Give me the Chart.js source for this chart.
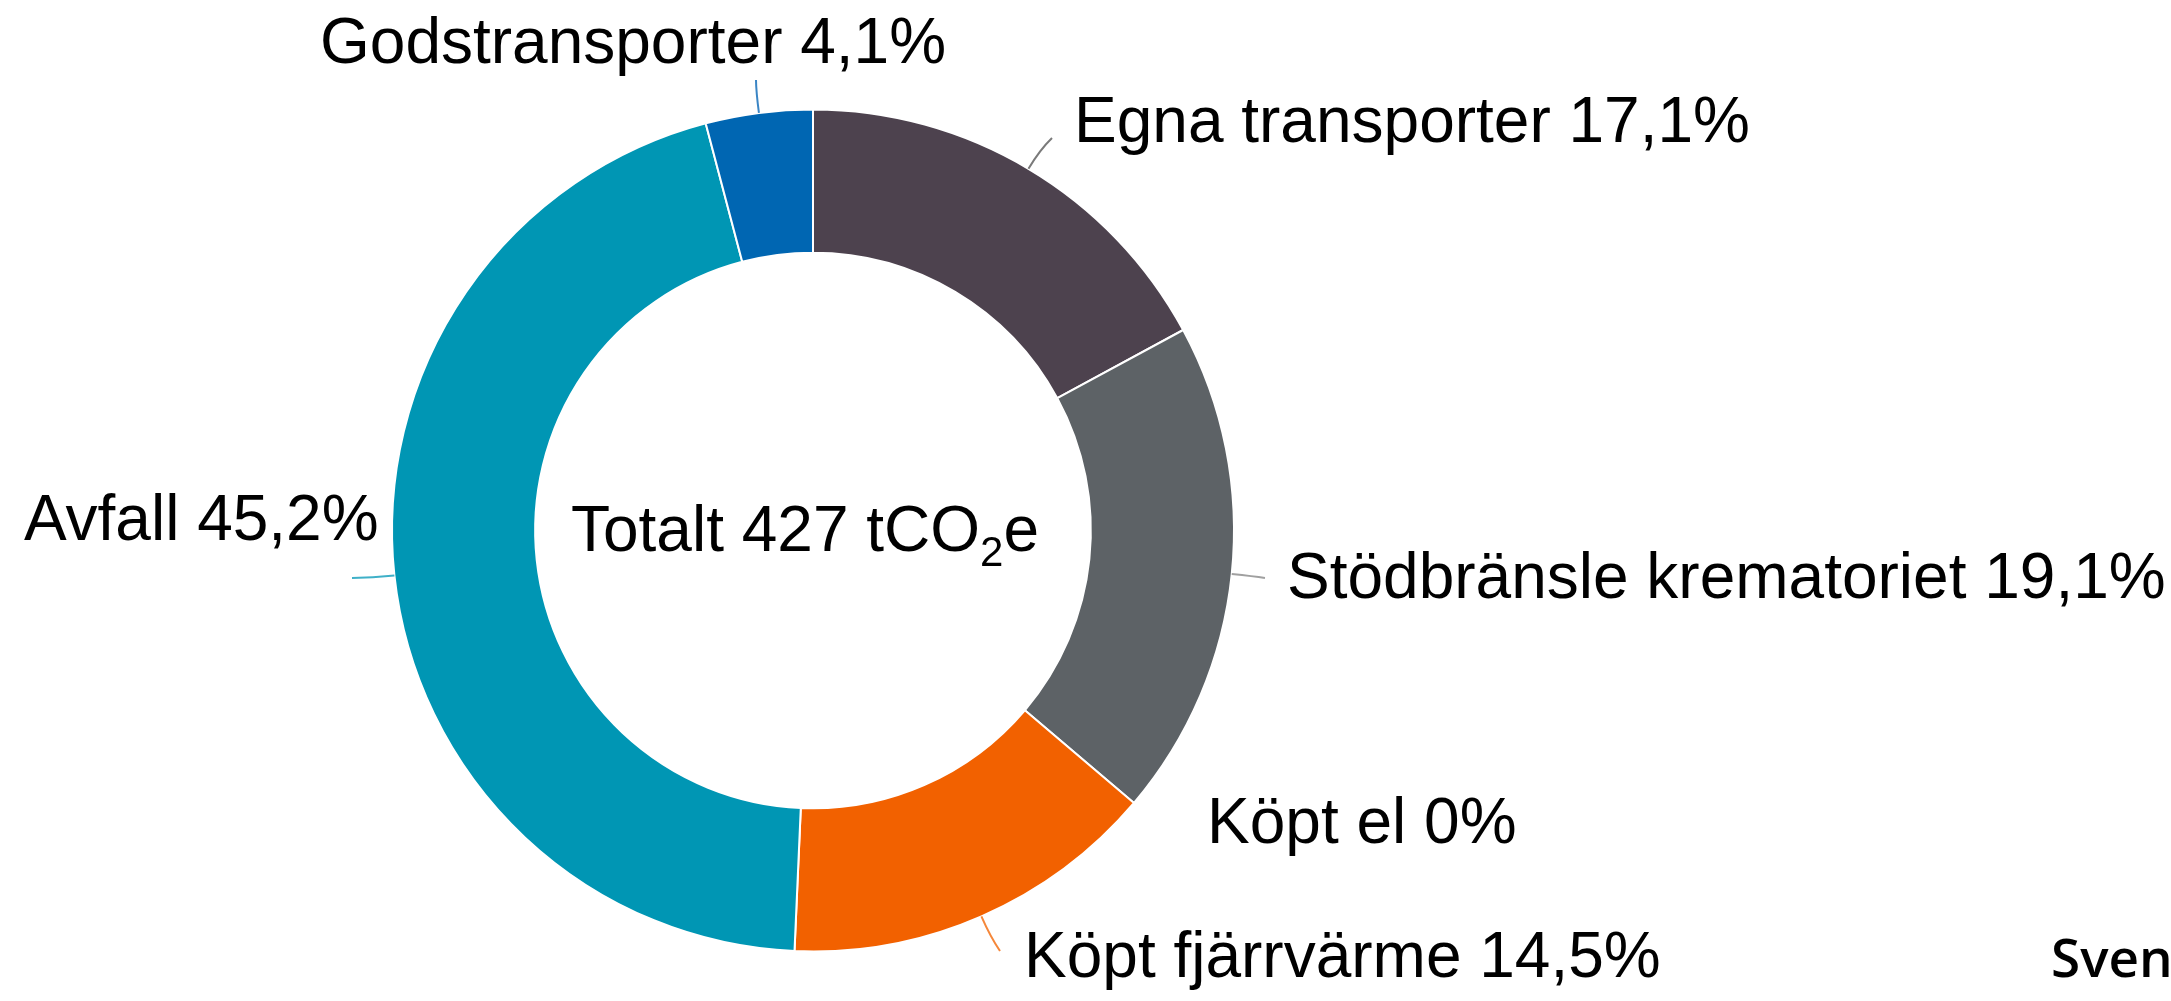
<!DOCTYPE html>
<html>
<head>
<meta charset="utf-8">
<script src="https://cdn.jsdelivr.net/npm/chart.js@4.4.1/dist/chart.umd.min.js"></script>
<style>
  html, body { margin: 0; padding: 0; background: #fff; overflow: hidden; }
  #wrap { width: 2171px; height: 1001px; position: relative; }
</style>
</head>
<body>
<div id="wrap"><canvas id="chart"></canvas></div>
<script>
// Data (share of total emissions, %)
const categories = ['Egna transporter', 'Stödbränsle krematoriet', 'Köpt el', 'Köpt fjärrvärme', 'Avfall', 'Godstransporter'];
const shares = [17.1, 19.1, 0, 14.5, 45.2, 4.1];
const totalLabel = 'Totalt 427 tCO';
const footerText = 'Sven';

// Styles
const sliceColors = ['#4d424e', '#5d6266', '#8ea4b4', '#f26100', '#0096b4', '#0066b2'];
const leaderColors = ['#7a7a7a', '#a0a0a0', null, '#f5873a', '#3fb0c8', '#3a85c5'];

// Where each label sits (text anchor + end of leader line)
const labelLayout = [
    { x: 1074, y: 142, endX: 1052, endY: 138 },
    { x: 1287, y: 598, endX: 1265, endY: 578 },
    { x: 1207, y: 843, endX: null, endY: null },
    { x: 1024, y: 977, endX: 1000, endY: 951 },
    { x: 24, y: 540, endX: 352, endY: 578 },
    { x: 320, y: 63, endX: 756, endY: 80 }
];

const LABEL_FONT = '64px "Liberation Sans", Arial, sans-serif';

function formatShare(v) {
    return (v === 0 ? '0' : v.toFixed(1).replace('.', ',')) + '%';
}

// Draws labels, leader lines and the centre text
const labelPlugin = {
    id: 'sliceLabels',
    afterDatasetsDraw(chart) {
        const ctx = chart.ctx;
        const arcs = chart.getDatasetMeta(0).data;
        ctx.save();

        arcs.forEach((arc, i) => {
            const layout = labelLayout[i];
            if (layout.endX !== null) {
                const mid = (arc.startAngle + arc.endAngle) / 2;
                const sx = arc.x + Math.cos(mid) * arc.outerRadius;
                const sy = arc.y + Math.sin(mid) * arc.outerRadius;
                const cx = sx + Math.cos(mid) * 22;
                const cy = sy + Math.sin(mid) * 22;
                ctx.beginPath();
                ctx.moveTo(sx, sy);
                ctx.quadraticCurveTo(cx, cy, layout.endX, layout.endY);
                ctx.strokeStyle = leaderColors[i];
                ctx.lineWidth = 2;
                ctx.stroke();
            }
            ctx.font = LABEL_FONT;
            ctx.fillStyle = '#000';
            ctx.textAlign = 'left';
            ctx.textBaseline = 'alphabetic';
            ctx.fillText(categories[i] + ' ' + formatShare(shares[i]), layout.x, layout.y);
        });

        // centre text with subscript 2
        const cx = arcs[0].x;
        const cy = arcs[0].y;
        ctx.font = '64px "Liberation Sans", Arial, sans-serif';
        const w1 = ctx.measureText(totalLabel).width;
        const wE = ctx.measureText('e').width;
        ctx.font = '42px "Liberation Sans", Arial, sans-serif';
        const w2 = ctx.measureText('2').width;
        const total = w1 + w2 + wE;
        let x = cx - total / 2 - 8;
        const base = cy + 20;
        ctx.font = '64px "Liberation Sans", Arial, sans-serif';
        ctx.fillText(totalLabel, x, base);
        x += w1;
        ctx.font = '42px "Liberation Sans", Arial, sans-serif';
        ctx.fillText('2', x, base + 15);
        x += w2;
        ctx.font = '64px "Liberation Sans", Arial, sans-serif';
        ctx.fillText('e', x, base);

        // footer logo text, cut by the right edge
        ctx.font = '600 53px "Open Sans", sans-serif';
        ctx.fillText(footerText, 2051, 977);

        ctx.restore();
    }
};

const ctx = document.getElementById('chart').getContext('2d');
const chart = new Chart(ctx, {
    type: 'doughnut',
    data: {
        labels: categories,
        datasets: [{
            data: shares,
            backgroundColor: sliceColors,
            borderColor: '#ffffff',
            borderWidth: 2
        }]
    },
    options: {
        responsive: true,
        maintainAspectRatio: false,
        animation: false,
        cutout: '66%',
        layout: {
            padding: { left: 391, right: 936, top: 107, bottom: 47 }
        },
        plugins: {
            legend: { display: false },
            tooltip: { enabled: false }
        }
    },
    plugins: [labelPlugin]
});
</script>
</body>
</html>
